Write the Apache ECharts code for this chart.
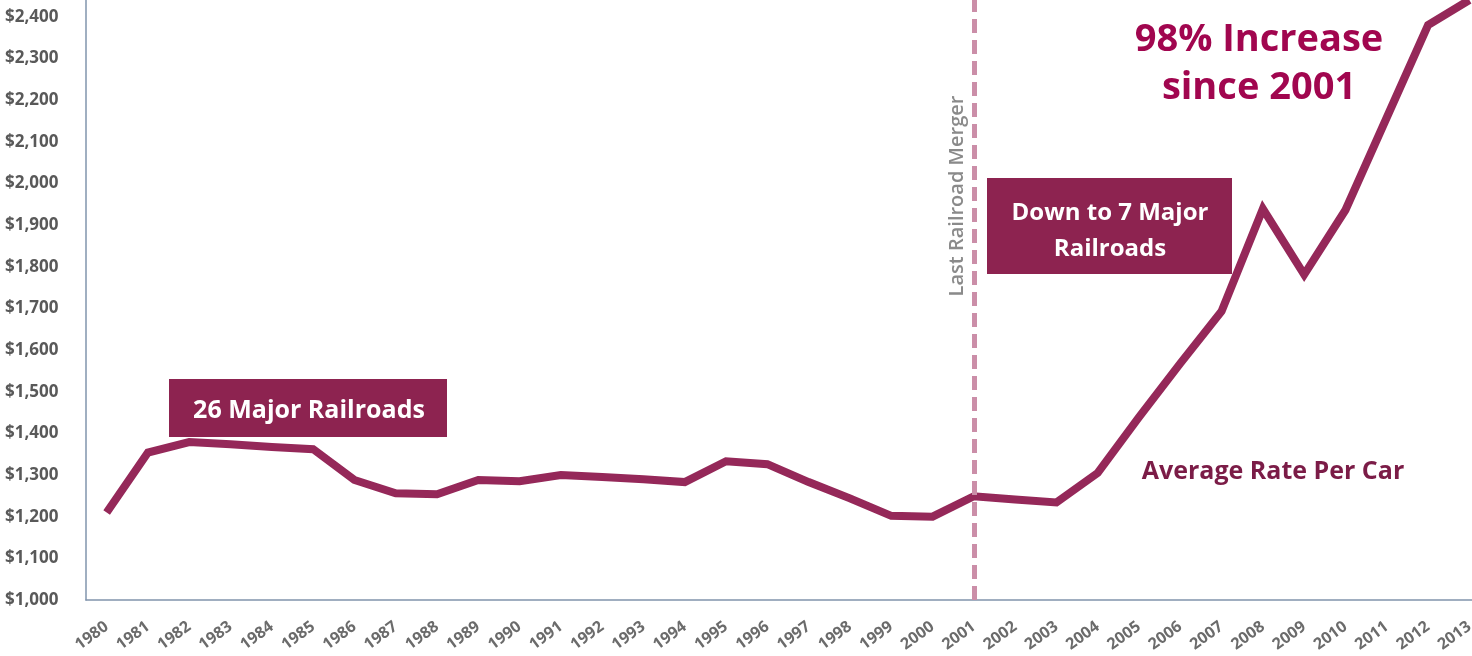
<!DOCTYPE html>
<html>
<head>
<meta charset="utf-8">
<script src="https://cdn.jsdelivr.net/npm/echarts@6/dist/echarts.min.js"></script>
<style>
html,body{margin:0;padding:0;background:#fff;}
#chart{width:1472px;height:656px;}
</style>
</head>
<body>
<div id="chart"></div>
<script>
// ---- data ----
const years = ['1980','1981','1982','1983','1984','1985','1986','1987','1988','1989',
  '1990','1991','1992','1993','1994','1995','1996','1997','1998','1999',
  '2000','2001','2002','2003','2004','2005','2006','2007','2008','2009',
  '2010','2011','2012','2013'];
const avgRatePerCar = [1210, 1354, 1379, 1374, 1367, 1362, 1288, 1256, 1254, 1288,
  1285, 1300, 1295, 1290, 1283, 1333, 1326, 1283, 1244, 1202,
  1200, 1249, 1241, 1234, 1305, 1439, 1568, 1693, 1939, 1781,
  1936, 2158, 2380, 2440];
const yTickValues = [1000,1100,1200,1300,1400,1500,1600,1700,1800,1900,2000,2100,2200,2300,2400];
const mergerYear = '2001';
const seriesName = 'Average Rate Per Car';
const note1980s = '26 Major Railroads';
const noteNow = 'Down to 7 Major\nRailroads';
const headline = '98% Increase\nsince 2001';
const mergerLabel = 'Last Railroad Merger';

// ---- style ----
const LINE = '#952859';
const BOX = '#8D2350';
const AXIS = '#8194AC';
const FONT = '"Open Sans", "DejaVu Sans", sans-serif';

const chart = echarts.init(document.getElementById('chart'), null, {renderer: 'canvas'});
chart.setOption({
  animation: false,
  backgroundColor: '#ffffff',
  grid: {left: 86, right: -18, top: 0, bottom: 56, containLabel: false, outerBoundsMode: 'none'},
  xAxis: {
    type: 'category',
    data: years,
    boundaryGap: true,
    axisLine: {show: true, lineStyle: {color: AXIS, width: 1.5}},
    axisTick: {show: false},
    splitLine: {show: false},
    axisLabel: {
      interval: 0, rotate: 36, margin: 25, hideOverlap: false,
      color: '#6B6B6B', fontSize: 16, fontWeight: 'bold', fontFamily: FONT
    }
  },
  yAxis: {
    type: 'value',
    min: 1000, max: 2440, interval: 100,
    axisLine: {show: true, lineStyle: {color: AXIS, width: 1.5}},
    axisTick: {show: false},
    splitLine: {show: false},
    axisLabel: {
      align: 'left', margin: 81,
      color: '#595959', fontSize: 17, fontWeight: 'bold', fontFamily: FONT,
      formatter: function (v) {
        return yTickValues.indexOf(v) >= 0 ? '$' + v.toLocaleString('en-US') : '';
      }
    }
  },
  series: [{
    name: seriesName,
    type: 'line',
    data: avgRatePerCar,
    symbol: 'none',
    lineStyle: {color: LINE, width: 8, join: 'miter'},
    z: 3,
    markLine: {
      silent: true,
      symbol: ['none', 'none'],
      label: {show: false},
      lineStyle: {color: '#CB8EA8', width: 5, type: [14, 7]},
      data: [{xAxis: mergerYear}],
      z: 4
    }
  }],
  graphic: [
    {type: 'rect', shape: {x: 169, y: 379, width: 278, height: 58}, style: {fill: BOX}, z: 10},
    {type: 'text', x: 309, y: 411, z: 11,
      style: {text: note1980s, fill: '#ffffff', font: 'bold 25px ' + FONT,
        align: 'center', verticalAlign: 'middle', textAlign: 'center', textVerticalAlign: 'middle'}},
    {type: 'rect', shape: {x: 987, y: 178, width: 245, height: 96}, style: {fill: BOX}, z: 10},
    {type: 'text', x: 1110, y: 231, z: 11,
      style: {text: noteNow, fill: '#ffffff', font: 'bold 24px ' + FONT, lineHeight: 36,
        align: 'center', verticalAlign: 'middle', textAlign: 'center', textVerticalAlign: 'middle'}},
    {type: 'text', x: 1273, y: 472, z: 11,
      style: {text: seriesName, fill: '#7B1C47', font: 'bold 25px ' + FONT,
        align: 'center', verticalAlign: 'middle', textAlign: 'center', textVerticalAlign: 'middle'}},
    {type: 'text', x: 1259, y: 64, z: 11,
      style: {text: headline, fill: '#A1064F', font: 'bold 38px ' + FONT, lineHeight: 48,
        align: 'center', verticalAlign: 'middle', textAlign: 'center', textVerticalAlign: 'middle'}},
    {type: 'text', x: 957, y: 196, rotation: Math.PI / 2, z: 11,
      style: {text: mergerLabel, fill: '#8A8A8A', font: '600 20px ' + FONT,
        align: 'center', verticalAlign: 'middle', textAlign: 'center', textVerticalAlign: 'middle'}}
  ]
});
</script>
</body>
</html>
